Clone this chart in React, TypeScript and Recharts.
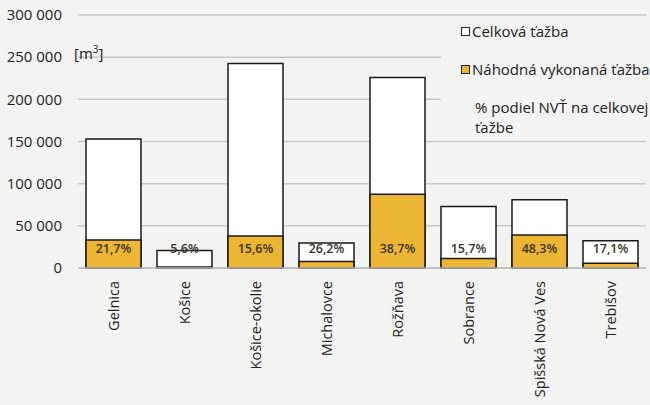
import React from 'react';
import { BarChart, Bar, XAxis, YAxis, CartesianGrid, Legend, LabelList } from 'recharts';

const districts = ['Gelnica', 'Košice', 'Košice-okolie', 'Michalovce', 'Rožňava', 'Sobrance', 'Spišská Nová Ves', 'Trebišov'];
const totalHarvest = [153000, 20700, 242500, 29600, 226000, 73000, 81000, 32200];
const randomHarvest = [33200, 1160, 37800, 7750, 87500, 11400, 39100, 5500];
const sharePct = [21.7, 5.6, 15.6, 26.2, 38.7, 15.7, 48.3, 17.1];
const yTicks = [0, 50000, 100000, 150000, 200000, 250000, 300000];

const data = districts.map((name, i) => ({
  name,
  total: totalHarvest[i],
  random: randomHarvest[i],
  pct: sharePct[i],
}));

const ORANGE = '#ECB534';
const BG = '#f3f3f1';
const FONT = '"Open Sans", sans-serif';
const TEXT = '#222222';

const fmtThousands = (v: number) => String(v).replace(/\B(?=(\d{3})+(?!\d))/g, ' ');

const XTick = ({ x, y, payload }: any) => (
  <text
    x={x}
    y={y}
    transform={`rotate(-90, ${x}, ${y})`}
    textAnchor="end"
    dy="0.36em"
    fontSize={14.5}
    fontFamily={FONT}
    fill={TEXT}
  >
    {payload.value}
  </text>
);

const PctLabel = ({ x, y, width, height, index }: any) => {
  const base = y + height;
  return (
    <text
      x={x + width / 2}
      y={base - 19}
      dy="0.35em"
      textAnchor="middle"
      fontSize={12.5}
      fontFamily={FONT}
      fontWeight={600}
      fill="#3a3426"
    >
      {String(sharePct[index]).replace('.', ',') + '%'}
    </text>
  );
};

const LegendBox = () => (
  <div style={{ fontFamily: FONT, fontSize: 15, color: TEXT, background: BG, width: 209, height: 117, position: 'relative' }}>
    <div style={{ position: 'absolute', left: 20, top: 1, display: 'flex', alignItems: 'center', whiteSpace: 'nowrap' }}>
      <span style={{ display: 'inline-block', width: 7, height: 7, border: '1px solid #222', background: '#fff', marginRight: 2 }} />
      Celková ťažba
    </div>
    <div style={{ position: 'absolute', left: 20, top: 39, display: 'flex', alignItems: 'center', whiteSpace: 'nowrap' }}>
      <span style={{ display: 'inline-block', width: 7, height: 7, border: '1px solid #222', background: ORANGE, marginRight: 2 }} />
      Náhodná vykonaná ťažba
    </div>
    <div style={{ position: 'absolute', left: 34, top: 77, lineHeight: '20px', whiteSpace: 'nowrap' }}>
      % podiel NVŤ na celkovej
      <br />
      ťažbe
    </div>
  </div>
);

export default function App() {
  return (
    <div style={{ position: 'absolute', left: 0, top: 0, width: 650, height: 405, background: BG }}>
      <BarChart width={650} height={405} data={data} margin={{ top: 15, right: 4, bottom: 0, left: 0 }}>
        <CartesianGrid vertical={false} stroke="#c6c6c6" strokeWidth={1.5} />
        <XAxis
          xAxisId={0}
          dataKey="name"
          interval={0}
          height={137}
          tickSize={0}
          tickMargin={13}
          tick={<XTick />}
          axisLine={{ stroke: '#bdbdbd', strokeWidth: 1.5 }}
        />
        <XAxis xAxisId={1} dataKey="name" hide />
        <YAxis
          domain={[0, 300000]}
          ticks={yTicks}
          width={78}
          tickSize={0}
          tickMargin={16}
          axisLine={false}
          tickFormatter={fmtThousands}
          tick={{ fontSize: 15, fontFamily: FONT, fill: TEXT }}
        />
        <Bar
          xAxisId={0}
          dataKey="total"
          name="Celková ťažba"
          fill="#ffffff"
          stroke="#1a1a1a"
          strokeWidth={1.5}
          barSize={55}
          isAnimationActive={false}
        />
        <Bar
          xAxisId={1}
          dataKey="random"
          name="Náhodná vykonaná ťažba"
          fill={ORANGE}
          stroke="#1a1a1a"
          strokeWidth={1.5}
          barSize={55}
          isAnimationActive={false}
        >
          <LabelList dataKey="pct" content={<PctLabel />} />
        </Bar>
        <Legend
          layout="horizontal"
          verticalAlign="middle"
          content={<LegendBox />}
          wrapperStyle={{ position: 'absolute', left: 441, top: 20, width: 209, height: 117 }}
        />
      </BarChart>
      <div style={{ position: 'absolute', left: 74, top: 42, fontFamily: FONT, fontSize: 15, color: TEXT }}>
        [m<sup style={{ fontSize: 10 }}>3</sup>]
      </div>
    </div>
  );
}
